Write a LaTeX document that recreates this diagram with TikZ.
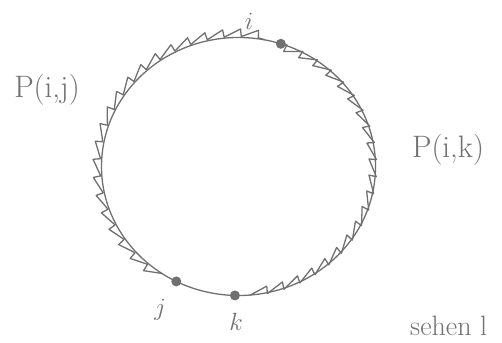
\documentclass[tikz,border=0pt]{standalone}
\usetikzlibrary{decorations.pathmorphing}
\definecolor{pencil}{RGB}{112,112,112}
\tikzset{
  pen/.style={draw=pencil, line width=1.3pt, line cap=round, line join=round},
  waveline/.style={pen, decorate, decoration={saw, amplitude=#1, segment length=17pt}},
  dot/.style={circle, fill=pencil, inner sep=0pt, minimum size=10pt},
  lbl/.style={text=pencil, font=\fontsize{31}{36}\selectfont, inner sep=0pt},
  slbl/.style={text=pencil, font=\fontsize{28}{32}\selectfont, inner sep=0pt}
}
\begin{document}
\begin{tikzpicture}[x=1pt,y=1pt]
\useasboundingbox (0,0) rectangle (502,342);
\coordinate (c) at (238.5,175.5);
% base loop
\draw[pen] (c) ellipse [x radius=137pt, y radius=129pt];
% wavy path from j up over the left to i
\draw[waveline=7.5pt] (c) ++(236:137pt and 129pt) arc[start angle=236, end angle=79, x radius=137pt, y radius=129pt];
% wavy path from k up over the right to i
\draw[waveline=7.5pt] (c) ++(-85:137pt and 129pt) arc[start angle=-85, end angle=70, x radius=137pt, y radius=129pt];
% points
\path (c) ++(72:137pt and 129pt) node[dot] (pi) {};
\path (c) ++(243:137pt and 129pt) node[dot] (pj) {};
\path (c) ++(268.5:137pt and 129pt) node[dot] (pk) {};
% labels
\node[slbl] (li) at (249,321) {$i$};
\node[slbl] (lj) at (160,32) {$j$};
\node[slbl] (lk) at (236,20) {$k$};
\node[lbl] (lpij) at (47,252) {P(i,j)};
\node[lbl] (lpik) at (448,192) {P(i,k)};
\node[slbl, anchor=west] (ls) at (410,16) {sehen l};
\end{tikzpicture}
\end{document}
